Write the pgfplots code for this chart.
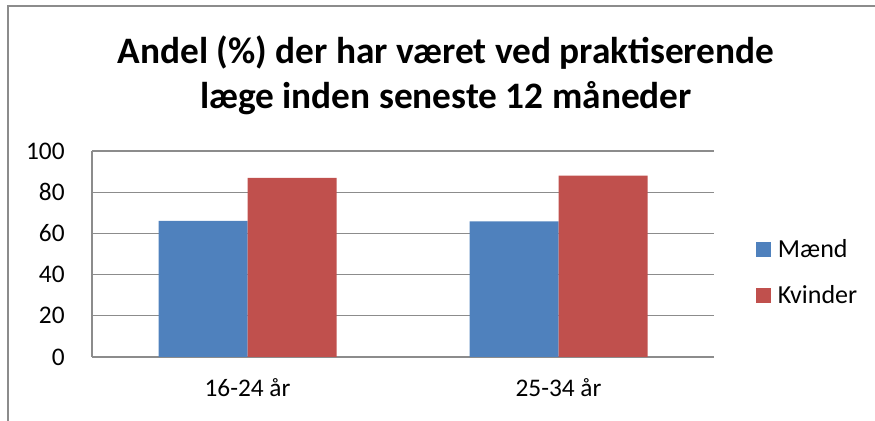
\documentclass[border=0pt]{standalone}
\usepackage{pgfplots}
\pgfplotsset{compat=1.18}
\usepackage{fontspec}
\setmainfont{Carlito}
\definecolor{mblue}{HTML}{4F81BD}
\definecolor{mred}{HTML}{C0504D}
\definecolor{gridgray}{HTML}{8C8C8C}
\begin{document}
\begin{tikzpicture}
\useasboundingbox (0pt,0pt) rectangle (656.25pt,315.75pt);
\draw[gridgray, line width=1.2pt] (6pt,0pt) -- (6pt,311.25pt) -- (656.25pt,311.25pt);
\node[align=center, font=\fontsize{28}{34}\selectfont\bfseries, anchor=center] at (334.5pt,259.5pt) {Andel (\%) der har været ved praktiserende\\ læge inden seneste 12 måneder};
\begin{axis}[
  at={(69pt,48pt)}, anchor=south west,
  scale only axis,
  width=466.5pt, height=154.5pt,
  xmin=-0.5, xmax=1.5, ymin=0, ymax=100,
  ybar=0pt, bar width=66.75pt,
  xtick={0,1}, xticklabels={16-24 år,25-34 år},
  ytick={0,20,40,60,80,100},
  major tick length=0pt,
  axis x line*=bottom, axis y line*=left,
  axis line style={gridgray, line width=1pt, -},
  ymajorgrids, major grid style={gridgray, line width=1pt},
  /pgf/number format/assume math mode=true,
  tick label style={font=\fontsize{19}{22}\selectfont},
  yticklabel style={xshift=-17pt},
  xticklabel style={yshift=-12.5pt},
  legend style={at={(1.0675,0.584)}, anchor=north west, draw=none, fill=none,
    font=\fontsize{19.5}{22}\selectfont, row sep=15.4pt, inner sep=0pt},
  legend cell align=left,
  legend image code/.code={\fill[#1] (0pt,-5.6pt) rectangle (11.25pt,5.6pt);},
  legend style={nodes={inner xsep=5pt}},
]
\addplot[fill=mblue, draw=none] coordinates {(0,66.1) (1,65.8)};
\addplot[fill=mred, draw=none] coordinates {(0,87.0) (1,88.0)};
\legend{Mænd,Kvinder}
\end{axis}
\end{tikzpicture}
\end{document}
